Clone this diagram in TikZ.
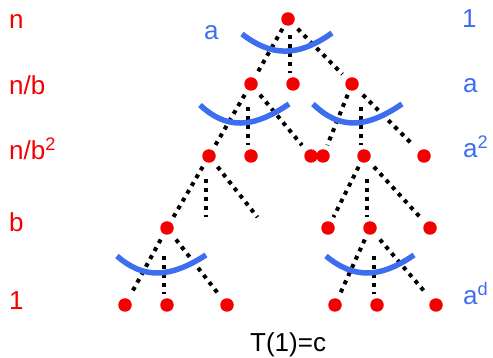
\documentclass[tikz,border=0pt]{standalone}
\usepackage{fontspec}
\setmainfont{Liberation Sans}
\usetikzlibrary{calc}
\definecolor{myblue}{RGB}{62,110,240}
\definecolor{myred}{RGB}{245,0,0}
\newcommand\mydiag[2]{\draw[edge] ($(#1)!0.15!(#2)$) -- ($(#1)!0.85!(#2)$);}
\newcommand\myvert[1]{\draw[edge] ($(#1)+(-3,-49)$) -- ($(#1)+(-3,-11)$);}
\begin{document}
\begin{tikzpicture}[x=1pt,y=-1pt,
 dot/.style={circle,fill=myred,inner sep=0,minimum size=13.5pt},
 edge/.style={line width=4pt,dash pattern=on 4pt off 5pt,black},
 bluearc/.style={line width=5.5pt,myblue},
 lbl/.style={anchor=base west,inner sep=0,font=\fontsize{26}{30}\selectfont},
 redlbl/.style={lbl,text=myred},
 bluelbl/.style={lbl,text=myblue},
]
\useasboundingbox (0,0) rectangle (493,358);
% coordinates of tree positions
\coordinate (r) at (288,19);
\coordinate (a1) at (251,84);
\coordinate (a2) at (293,84);
\coordinate (a3) at (352,84);
\coordinate (b1) at (209,156);
\coordinate (b2) at (251,156);
\coordinate (b3) at (311,156);
\coordinate (b4) at (323,156);
\coordinate (b5) at (364,156);
\coordinate (b6) at (424,156);
\coordinate (c1) at (167,228);
\coordinate (g1) at (209,228);
\coordinate (g2) at (266,228);
\coordinate (c2) at (328,228);
\coordinate (c3) at (370,228);
\coordinate (c4) at (430,228);
\coordinate (d1) at (125,305);
\coordinate (d2) at (167,305);
\coordinate (d3) at (227,305);
\coordinate (d4) at (335,305);
\coordinate (d5) at (377,305);
\coordinate (d6) at (436,305);
% dotted edges
\mydiag{r}{a1} \myvert{a2} \mydiag{r}{a3}
\mydiag{a1}{b1} \myvert{b2} \mydiag{a1}{b3}
\mydiag{a3}{b4} \myvert{b5} \mydiag{a3}{b6}
\mydiag{b1}{c1} \myvert{g1} \mydiag{b1}{g2}
\mydiag{b5}{c2} \myvert{c3} \mydiag{b5}{c4}
\mydiag{c1}{d1} \myvert{d2} \mydiag{c1}{d3}
\mydiag{c3}{d4} \myvert{d5} \mydiag{c3}{d6}
% blue arcs
\draw[bluearc] (242,34) .. controls (272,57) and (298,57) .. (332,33);
\draw[bluearc] (200,105) .. controls (226,129.2) and (252,129.2) .. (289,104);
\draw[bluearc] (313,104) .. controls (339,129.3) and (365,129.3) .. (402,104);
\draw[bluearc] (117,256) .. controls (143,278.8) and (169,278.8) .. (206,255);
\draw[bluearc] (326,256) .. controls (353.5,278.8) and (379.5,278.8) .. (414,255);
% red dots
\foreach \p in {r,a1,a2,a3,b1,b2,b3,b4,b5,b6,c1,c2,c3,c4,d1,d2,d3,d4,d5,d6}
  \node[dot] (n\p) at (\p) {};
% labels
\node[redlbl] (ln) at (9,29) {n};
\node[redlbl] (lnb) at (9,95) {n/b};
\node[redlbl] (lnb2) at (9,160) {n/b\textsuperscript{2}};
\node[redlbl] (lb) at (9,232) {b};
\node[redlbl] (l1) at (9,309) {1};
\node[bluelbl] (r1) at (462,28) {1};
\node[bluelbl] (ra) at (463,93) {a};
\node[bluelbl] (ra2) at (463,158) {a\textsuperscript{2}};
\node[bluelbl] (rad) at (463,305) {a\textsuperscript{d}};
\node[bluelbl] (ta) at (204,40) {a};
\node[lbl] (t1) at (250,351) {T(1)=c};
\end{tikzpicture}
\end{document}
